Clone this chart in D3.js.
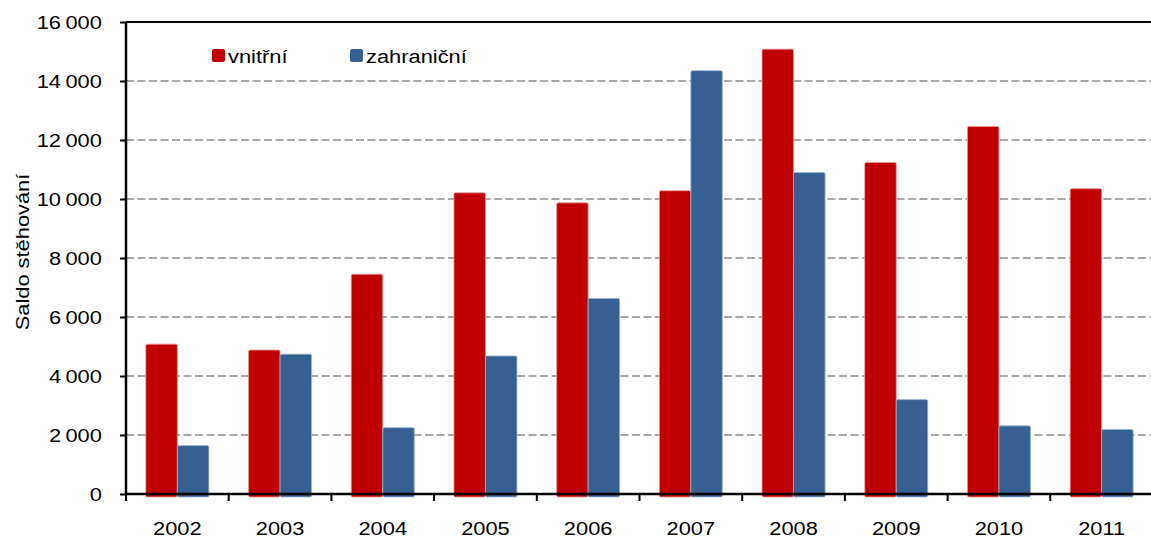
<!DOCTYPE html>
<html>
<head>
<meta charset="utf-8">
<script src="https://cdn.jsdelivr.net/npm/d3@7"></script>
<style>
  body { margin: 0; background: #fff; }
  svg text { font-family: "Liberation Sans", Arial, sans-serif; fill: #000; }
</style>
</head>
<body>
<div id="chart"></div>
<script>
// data
var years = ['2002', '2003', '2004', '2005', '2006', '2007', '2008', '2009', '2010', '2011'];
var vnitrni = [5080, 4880, 7450, 10210, 9870, 10280, 15080, 11240, 12460, 10350];
var zahranicni = [1640, 4740, 2250, 4680, 6630, 14350, 10900, 3200, 2310, 2190];
var seriesNames = ['vnitřní', 'zahraniční'];
var seriesColors = ['#c00000', '#376092'];
var seriesEdges = ['#e89a9a', '#9db3d0'];
var yTicks = [0, 2000, 4000, 6000, 8000, 10000, 12000, 14000, 16000];

var W = 1151, H = 539;
var margin = {left: 126, top: 22, bottom: 45};
var plotRight = 1153;
var sx = 1.15; // horizontal text stretch of the original

var svg = d3.select('#chart').append('svg')
    .attr('width', W)
    .attr('height', H);

var x0 = d3.scaleBand().domain(years).range([margin.left, plotRight]).padding(0);
var x1 = d3.scaleBand().domain(seriesNames).range([0, x0.bandwidth()])
    .paddingInner(0).paddingOuter(0.63);
var y = d3.scaleLinear().domain([0, 16000]).range([H - margin.bottom, margin.top]);

var fmt = d3.formatLocale({decimal: ',', thousands: '\u2009', grouping: [3], currency: ['', '']}).format(',d');

// grid
svg.append('g')
  .selectAll('line')
  .data(yTicks.filter(function(d){ return d > 0 && d < 16000; }))
  .join('line')
    .attr('x1', margin.left).attr('x2', plotRight)
    .attr('y1', function(d){ return y(d); }).attr('y2', function(d){ return y(d); })
    .attr('stroke', '#8c8c8c')
    .attr('stroke-width', 1.6)
    .attr('stroke-dasharray', '8,3.5');

svg.append('line')
  .attr('x1', margin.left).attr('x2', plotRight)
  .attr('y1', y(16000)).attr('y2', y(16000))
  .attr('stroke', '#000').attr('stroke-width', 2);

// bars
var rows = years.map(function(yr, i){
  return {year: yr, values: [vnitrni[i], zahranicni[i]]};
});

svg.append('g')
  .selectAll('g')
  .data(rows)
  .join('g')
    .attr('transform', function(d){ return 'translate(' + x0(d.year) + ',0)'; })
  .selectAll('rect')
  .data(function(d){ return d.values.map(function(v, k){ return {k: k, v: v}; }); })
  .join('rect')
    .attr('x', function(d){ return x1(seriesNames[d.k]); })
    .attr('width', x1.bandwidth())
    .attr('y', function(d){ return y(d.v); })
    .attr('height', function(d){ return y(0) - y(d.v) + 3; })
    .attr('rx', 1.5)
    .attr('fill', function(d){ return seriesColors[d.k]; })
    .attr('stroke', function(d){ return seriesEdges[d.k]; })
    .attr('stroke-width', 0.8);

// y axis
var yAxis = svg.append('g')
  .attr('transform', 'translate(' + margin.left + ',0)')
  .call(d3.axisLeft(y).tickValues(yTicks).tickSize(6).tickPadding(15).tickFormat(fmt));
yAxis.select('.domain').attr('stroke', '#000').attr('stroke-width', 2.5)
  .attr('d', 'M0,' + y(0) + 'V' + y(16000));
yAxis.selectAll('.tick line').attr('stroke', '#000').attr('stroke-width', 2);
yAxis.selectAll('.tick text')
  .attr('font-size', 19)
  .attr('dy', '0.35em')
  .attr('transform', 'scale(' + sx + ',1)');

// x axis
var xAxis = svg.append('g')
  .attr('transform', 'translate(0,' + y(0) + ')')
  .call(d3.axisBottom(x0).tickSize(0).tickPadding(28));
xAxis.select('.domain').attr('stroke', '#000').attr('stroke-width', 2.5)
  .attr('d', 'M' + margin.left + ',0H' + plotRight);
xAxis.selectAll('.tick text')
  .attr('font-size', 19)
  .attr('transform', 'scale(' + sx + ',1)');

xAxis.append('g')
  .selectAll('line')
  .data(years.concat(['end']))
  .join('line')
    .attr('x1', function(d){ return d === 'end' ? plotRight : x0(d); })
    .attr('x2', function(d){ return d === 'end' ? plotRight : x0(d); })
    .attr('y1', 0).attr('y2', 7)
    .attr('stroke', '#000').attr('stroke-width', 2);

// axis title
svg.append('text')
  .attr('transform', 'translate(29,' + ((y(0) + y(16000)) / 2 - 6) + ') rotate(-90) scale(' + sx + ',1)')
  .attr('text-anchor', 'middle')
  .attr('font-size', 19)
  .text('Saldo stěhování');

// legend
var legend = svg.append('g');
var legendX = [212, 350];
seriesNames.forEach(function(name, k){
  legend.append('rect')
    .attr('x', legendX[k]).attr('y', 49)
    .attr('width', 13).attr('height', 13)
    .attr('rx', 2)
    .attr('fill', seriesColors[k]);
  legend.append('text')
    .attr('transform', 'translate(' + (legendX[k] + 16) + ',63) scale(' + sx + ',1)')
    .attr('font-size', 19)
    .text(name);
});
</script>
</body>
</html>
